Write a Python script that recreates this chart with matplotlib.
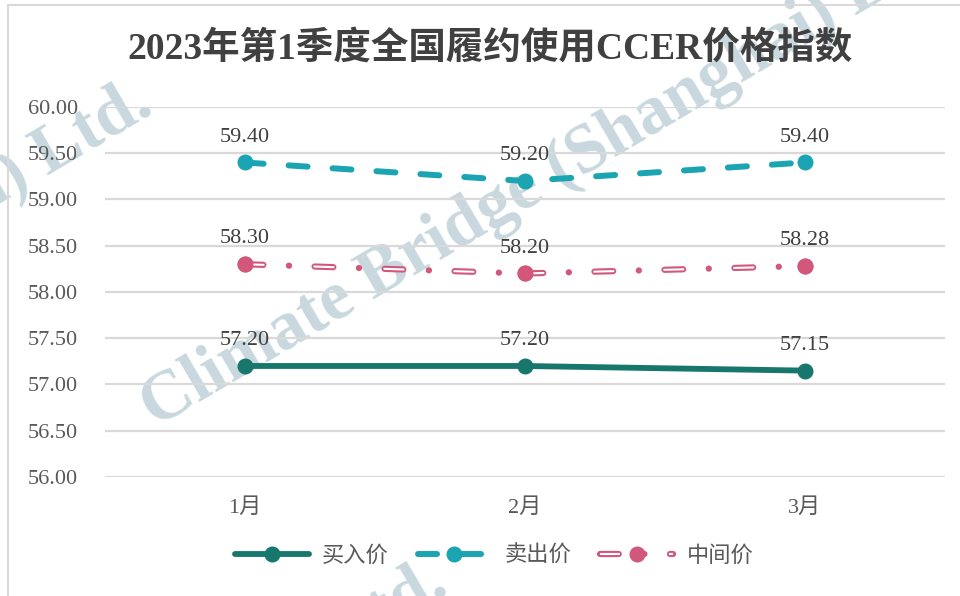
import matplotlib.pyplot as plt

plt.rcParams['font.family'] = ['Liberation Serif', 'Noto Sans CJK SC', 'DejaVu Sans']
plt.rcParams['lines.scale_dashes'] = False

# 数据
months = ["1月", "2月", "3月"]
buy = [57.20, 57.20, 57.15]
sell = [59.40, 59.20, 59.40]
mid = [58.30, 58.20, 58.28]
y_ticks = [56.0, 56.5, 57.0, 57.5, 58.0, 58.5, 59.0, 59.5, 60.0]

title = "2023年第1季度全国履约使用CCER价格指数"
watermark = "Climate Bridge (Shanghai) Ltd."

c_buy = "#17776c"
c_sell = "#1ba5b2"
c_mid = "#d2577b"
c_text = "#595959"

fig = plt.figure(figsize=(9.6, 5.96), dpi=100)
ax = fig.add_axes([0.109, 0.1997, 0.875, 0.6208])
ax.patch.set_alpha(0)

# 边框
fig.add_artist(plt.Rectangle((8 / 960, -0.01), 1.2, 1 - 5 / 596 + 0.01, transform=fig.transFigure,
                             fill=False, edgecolor="#d9d9d9", lw=1.5))

# 水印
wm = dict(fontsize=50, fontweight="bold", color="#c8d8de", rotation=30.5,
          rotation_mode="anchor", zorder=-1, family="Liberation Serif")
fig.text(155 / 960, 1 - 428 / 596, watermark, ha="left", va="baseline", **wm)
fig.text(155 / 960, 1 - 112 / 596, watermark, ha="right", va="baseline", **wm)
fig.text(450 / 960, 1 - 592 / 596, watermark, ha="right", va="baseline", **wm)

x = range(len(months))

l_buy, = ax.plot(x, buy, color=c_buy, lw=4.2, marker="o", ms=10.5,
                 solid_capstyle="round", zorder=5)
l_sell, = ax.plot(x, sell, color=c_sell, lw=4.3, marker="o", ms=10.5,
                  linestyle=(0, (13.7, 18.0)), dash_capstyle="round", zorder=5)
l_mid, = ax.plot(x, mid, color=c_mid, lw=4.5, marker="o", ms=10.5,
                 linestyle=(0, (13.5, 18.4, 0.1, 18.4)), dash_capstyle="round", zorder=5)
l_mid_in, = ax.plot(x, mid, color="white", lw=1.5,
                    linestyle=(0.75, (15.0, 35.4)), dash_capstyle="butt", zorder=5.5)
ax.plot(x, mid, color=c_mid, lw=0, marker="o", ms=10.5, zorder=6)

for series in (buy, sell, mid):
    for i, v in enumerate(series):
        ax.annotate(f"{v:.2f}", (i, v), xytext=(0, 15), textcoords="offset points",
                    ha="center", va="baseline", fontsize=16, color="#404040", zorder=7)

ax.set_xlim(-0.5, len(months) - 0.5)
ax.set_ylim(56, 60)
ax.set_yticks(y_ticks)
ax.set_yticklabels([f"{t:.2f}" for t in y_ticks])
ax.set_xticks(list(x))
ax.set_xticklabels(months)
ax.tick_params(axis="both", length=0, labelsize=16, labelcolor=c_text)
ax.tick_params(axis="y", pad=19)
ax.tick_params(axis="x", pad=15)
ax.grid(axis="y", color="#d9d9d9", lw=1.6, zorder=0)
ax.set_axisbelow(True)
for s in ax.spines.values():
    s.set_visible(False)

fig.text(0.51, 1 - 49 / 596, title, ha="center", va="center", fontsize=27,
         fontweight="bold", color="#404040")

leg = fig.legend([l_buy, l_sell, (l_mid, l_mid_in)], ["买入价", "卖出价", "中间价"],
                 loc="center", bbox_to_anchor=(0.515, 1 - 556 / 596), ncol=3, frameon=False,
                 fontsize=16, handlelength=3.3, handletextpad=0.6, columnspacing=1.3,
                 labelcolor=c_text)

fig.savefig("out.png", dpi=100)
